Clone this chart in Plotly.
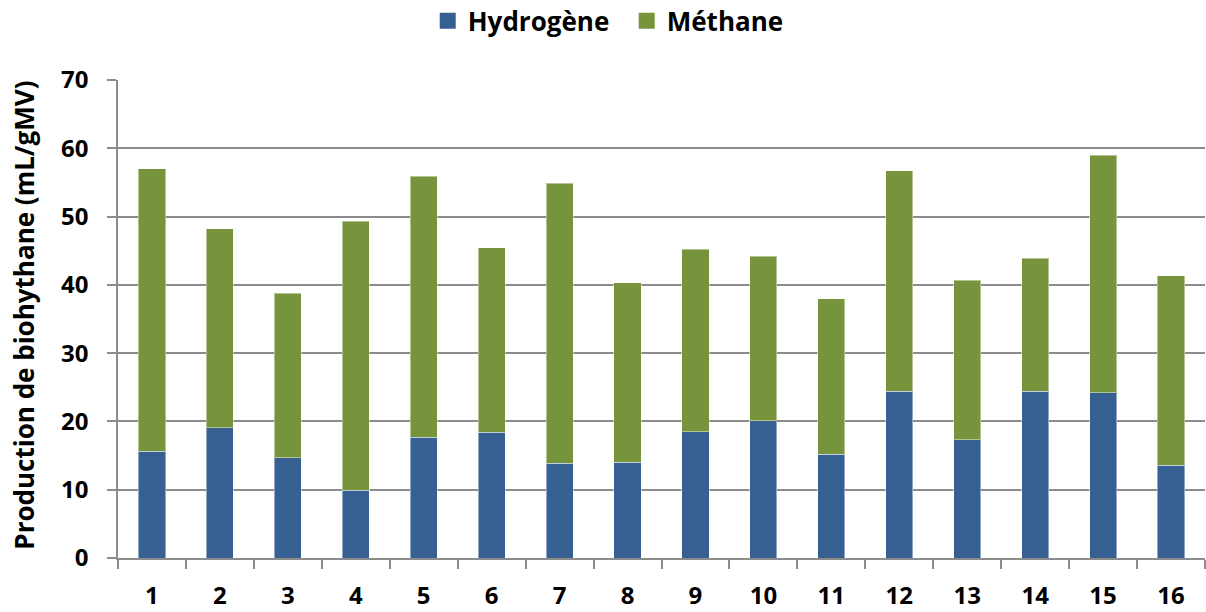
import plotly.graph_objects as go

# Essais 1 à 16
categories = [str(i) for i in range(1, 17)]

# Production (mL/gMV) de chaque gaz, empilée par essai
hydrogene = [15.6, 19.1, 14.7, 9.9, 17.7, 18.4, 13.9, 14.0,
             18.5, 20.1, 15.2, 24.4, 17.3, 24.4, 24.2, 13.6]
methane = [41.4, 29.1, 24.1, 39.4, 38.2, 27.0, 41.0, 26.3,
           26.7, 24.1, 22.8, 32.3, 23.4, 19.5, 34.8, 27.7]

y_ticks = [0, 10, 20, 30, 40, 50, 60, 70]

series = [("Hydrogène", hydrogene, "#376092"), ("Méthane", methane, "#77933C")]

FONT = "Open Sans"
GRID = "#8c8c8c"

fig = go.Figure()
for name, values, color in series:
    fig.add_trace(go.Bar(
        x=categories, y=values, name=name, showlegend=False,
        marker=dict(color=color, line=dict(color="rgba(255,255,255,0.45)", width=1)),
    ))
# légende : carrés pleins plus grands que le symbole par défaut des barres
for name, _, color in series:
    fig.add_trace(go.Scatter(
        x=[None], y=[None], name=name, mode="markers",
        marker=dict(symbol="square", size=17, color=color),
        showlegend=True, hoverinfo="skip",
    ))

fig.update_layout(
    barmode="stack",
    bargap=0.6,
    width=1206, height=612,
    margin=dict(l=118, r=1, t=80, b=54, autoexpand=False),
    paper_bgcolor="white",
    plot_bgcolor="white",
    font=dict(family=FONT, color="#000000", size=24),
    legend=dict(
        orientation="h",
        x=0.468, xanchor="center",
        y=1.1235, yanchor="middle",
        font=dict(family=FONT, size=26, color="#000000", weight="bold"),
        itemsizing="trace",
        itemwidth=30,
        entrywidth=154,
        traceorder="normal",
    ),
    xaxis=dict(
        type="category",
        tickson="boundaries",
        ticks="outside", ticklen=9, tickwidth=1.5, tickcolor=GRID,
        showline=True, linecolor=GRID, linewidth=1.5,
        showgrid=False,
        tickfont=dict(family=FONT, size=24, color="#000000", weight="bold"),
        ticklabelstandoff=15,
    ),
    yaxis=dict(
        range=[0, 70],
        tickvals=y_ticks,
        ticks="outside", ticklen=9, tickwidth=1.5, tickcolor=GRID,
        showline=True, linecolor=GRID, linewidth=1.5,
        showgrid=True, gridcolor=GRID, gridwidth=1.5,
        zeroline=False,
        tickfont=dict(family=FONT, size=24, color="#000000", weight="bold"),
        ticklabelstandoff=14,
    ),
    annotations=[dict(
        text="Production de biohythane (mL/gMV)",
        xref="paper", yref="paper",
        x=-0.0865, y=0.509,
        xanchor="center", yanchor="middle",
        textangle=-90, showarrow=False,
        font=dict(family=FONT, size=26, color="#000000", weight="bold"),
    )],
)

fig.write_html("out.html")
